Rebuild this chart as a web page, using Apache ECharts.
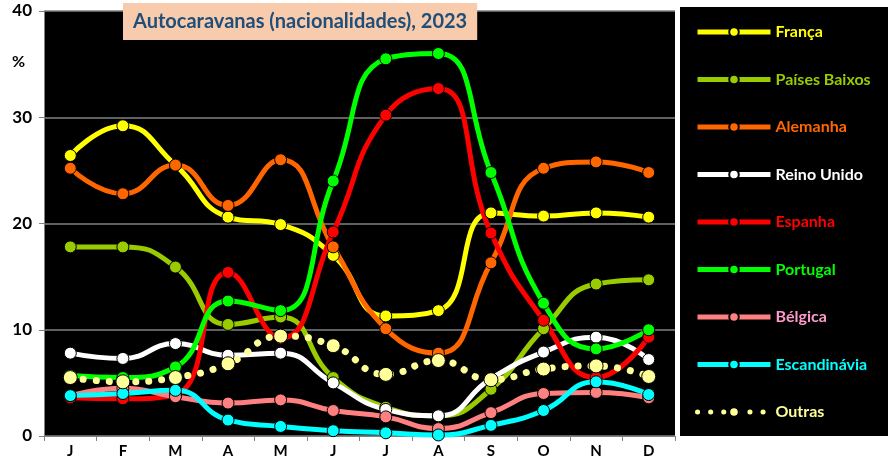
<!DOCTYPE html>
<html>
<head>
<meta charset="utf-8">
<script src="https://cdn.jsdelivr.net/npm/echarts@6/dist/echarts.min.js"></script>
<style>
  html, body { margin: 0; padding: 0; background: #fff; }
  #chart { width: 890px; height: 466px; }
</style>
</head>
<body>
<div id="chart"></div>
<script>
// meses
const months = ["J", "F", "M", "A", "M", "J", "J", "A", "S", "O", "N", "D"];

// % por nacionalidade
const franca = [26.4, 29.2, 25.5, 20.6, 19.9, 17.0, 11.3, 11.8, 21.0, 20.7, 21.0, 20.6];
const paisesBaixos = [17.8, 17.8, 15.9, 10.5, 11.2, 5.5, 2.7, 1.9, 4.4, 10.1, 14.3, 14.7];
const alemanha = [25.2, 22.8, 25.5, 21.7, 26.0, 17.8, 10.1, 7.8, 16.3, 25.2, 25.8, 24.8];
const reinoUnido = [7.8, 7.3, 8.7, 7.6, 7.8, 5.0, 2.5, 1.9, 5.4, 7.9, 9.3, 7.2];
const espanha = [3.6, 3.5, 3.9, 15.4, 9.2, 19.2, 30.2, 32.7, 19.1, 10.9, 5.5, 9.3];
const portugal = [5.7, 5.5, 6.5, 12.7, 11.8, 24.0, 35.5, 36.0, 24.8, 12.5, 8.2, 10.0];
const belgica = [3.8, 4.5, 3.7, 3.1, 3.4, 2.4, 1.8, 0.7, 2.2, 4.0, 4.1, 3.6];
const escandinavia = [3.8, 4.0, 4.3, 1.5, 0.9, 0.5, 0.3, 0.1, 1.0, 2.4, 5.1, 3.9];
const outras = [5.5, 5.1, 5.5, 6.8, 9.4, 8.5, 5.8, 7.1, 5.3, 6.3, 6.6, 5.6];

const yTicks = [0, 10, 20, 30, 40];

const seriesDefs = [
  { name: "França", data: franca, color: "#FFFF00", text: "#FFFF00" },
  { name: "Países Baixos", data: paisesBaixos, color: "#99CC00", text: "#99CC00" },
  { name: "Alemanha", data: alemanha, color: "#FF6600", text: "#FF6600" },
  { name: "Reino Unido", data: reinoUnido, color: "#FFFFFF", text: "#FFFFFF" },
  { name: "Espanha", data: espanha, color: "#FF0000", text: "#FF0000" },
  { name: "Portugal", data: portugal, color: "#00FF00", text: "#00FF00" },
  { name: "Bélgica", data: belgica, color: "#FF8080", text: "#FF99CC" },
  { name: "Escandinávia", data: escandinavia, color: "#00FFFF", text: "#00FFFF" },
  { name: "Outras", data: outras, color: "#FFFF99", text: "#FFFF99", dotted: true },
];

const FONT = "Lato, 'Open Sans', sans-serif";

const chart = echarts.init(document.getElementById("chart"));

chart.setOption({
  animation: false,
  backgroundColor: "#fff",
  title: {
    text: "Autocaravanas (nacionalidades), 2023",
    left: 123,
    top: 3,
    backgroundColor: "#F8CBAD",
    padding: [9, 10, 8, 10],
    textStyle: { color: "#1F4E79", fontFamily: FONT, fontWeight: "bold", fontSize: 20 },
    z: 10,
  },
  graphic: [
    {
      type: "rect",
      left: 680,
      top: 7,
      shape: { width: 208, height: 429 },
      style: { fill: "#000" },
      z: 0,
    },
    {
      type: "text",
      left: 12,
      top: 54,
      style: { text: "%", fill: "#000", font: "bold 16px " + FONT },
    },
  ],
  legend: {
    orient: "vertical",
    left: 695,
    top: 24,
    itemWidth: 73,
    itemHeight: 12,
    itemGap: 31.5,
    padding: 0,
    lineStyle: { width: 5 },
    textStyle: { fontFamily: FONT, fontWeight: "bold", fontSize: 16 },
    data: seriesDefs.map((s) => ({ name: s.name, textStyle: { color: s.text } })),
    z: 5,
  },
  grid: {
    left: 44,
    right: 215,
    top: 11,
    bottom: 30,
    show: true,
    backgroundColor: "#000",
    borderWidth: 0,
  },
  xAxis: {
    type: "category",
    data: months,
    boundaryGap: true,
    axisLine: { show: true, lineStyle: { color: "#808080" } },
    axisTick: { show: true, interval: 0, length: 5, lineStyle: { color: "#808080" } },
    axisLabel: { color: "#000", fontFamily: FONT, fontWeight: "bold", fontSize: 15, margin: 8 },
  },
  yAxis: {
    type: "value",
    min: yTicks[0],
    max: yTicks[yTicks.length - 1],
    interval: 10,
    axisLine: { show: true, lineStyle: { color: "#808080" } },
    axisTick: { show: true, length: 5, lineStyle: { color: "#808080" } },
    axisLabel: { color: "#000", fontFamily: FONT, fontWeight: "bold", fontSize: 17, margin: 12 },
    splitLine: { show: true, lineStyle: { color: "#808080", width: 1.5 } },
  },
  series: seriesDefs.map((s) => ({
    name: s.name,
    type: "line",
    data: s.data,
    smooth: 0.5,
    symbol: "circle",
    symbolSize: s.dotted ? 14 : 12,
    lineStyle: s.dotted
      ? { color: s.color, width: 7, type: [0.1, 13], cap: "round" }
      : { color: s.color, width: 5 },
    itemStyle: { color: s.color, borderColor: "#000", borderWidth: 1 },
    emphasis: { disabled: true },
  })),
});
</script>
</body>
</html>
